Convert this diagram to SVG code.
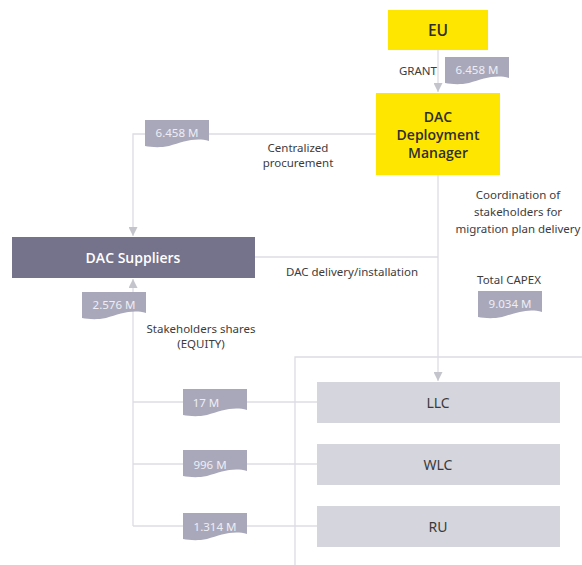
<svg xmlns="http://www.w3.org/2000/svg" width="582" height="565" viewBox="0 0 582 565">
<defs>
<style>
.ln{stroke:#dcdce3;stroke-width:1.3;fill:none}
.lbl{font-family:"Noto Sans","Open Sans",sans-serif;font-size:11.5px;fill:#3c3c3c;text-anchor:middle}
.bt{font-family:"Noto Sans","Open Sans",sans-serif;font-size:11.5px;fill:#eeeef4;text-anchor:middle}
.badge{fill:#a9a8bb}
.yel{fill:#ffe600}
.yt{font-family:"Open Sans","Noto Sans",sans-serif;font-size:14px;font-weight:600;fill:#2e2e2e;text-anchor:middle}
.lt{fill:#d5d5de}
.ltt{font-family:"Noto Sans","Open Sans",sans-serif;font-size:14px;fill:#3a3a3a;text-anchor:middle}
</style>
<path id="bd" d="M0,0 H64 V21 C50,17 38,22 24,26 C14,28 6,27 0,26 Z"/>
<marker id="ah" viewBox="0 0 10 10" refX="10" refY="5" markerWidth="9" markerHeight="9" markerUnits="userSpaceOnUse" orient="auto">
<path d="M0,0 L10,5 L0,10 Z" fill="#c4c4cc"/>
</marker>
</defs>
<rect width="582" height="565" fill="#ffffff"/>

<g id="connectors">
<line class="ln" x1="438" y1="50" x2="438" y2="92" marker-end="url(#ah)"/>
<polyline class="ln" points="376,134 133,134 133,236" marker-end="url(#ah)"/>
<line class="ln" x1="438" y1="175" x2="438" y2="381" marker-end="url(#ah)"/>
<line class="ln" x1="255" y1="257" x2="438" y2="257"/>
<line class="ln" x1="133" y1="526" x2="133" y2="279" marker-end="url(#ah)"/>
<line class="ln" x1="133" y1="402" x2="317" y2="402"/>
<line class="ln" x1="133" y1="464" x2="317" y2="464"/>
<line class="ln" x1="133" y1="526" x2="317" y2="526"/>
<polyline class="ln" points="582,357 295,357 295,565"/>
</g>

<g id="eu">
<rect class="yel" x="388" y="10" width="100" height="40"/>
<text class="yt" x="438" y="36" style="font-size:15.5px">EU</text>
</g>

<g id="grant">
<text class="lbl" x="418" y="75">GRANT</text>
<use href="#bd" class="badge" transform="translate(445,57)"/>
<text class="bt" x="477" y="74">6.458 M</text>
</g>

<g id="dac-manager">
<rect class="yel" x="376" y="93" width="124" height="82"/>
<text class="yt" x="438" y="122">DAC</text>
<text class="yt" x="438" y="140">Deployment</text>
<text class="yt" x="438" y="158">Manager</text>
</g>

<g id="centralized">
<use href="#bd" class="badge" transform="translate(145,120)"/>
<text class="bt" x="177" y="137">6.458 M</text>
<text class="lbl" x="298" y="152">Centralized</text>
<text class="lbl" x="298" y="167">procurement</text>
</g>

<g id="coordination">
<text class="lbl" x="518" y="199">Coordination of</text>
<text class="lbl" x="518" y="216">stakeholders for</text>
<text class="lbl" x="518" y="233">migration plan delivery</text>
</g>

<g id="dac-suppliers">
<rect x="12" y="237" width="243" height="41" fill="#75728c"/>
<text class="yt" x="133" y="263" style="fill:#ffffff">DAC Suppliers</text>
</g>

<g id="delivery">
<text class="lbl" x="352" y="276">DAC delivery/installation</text>
</g>

<g id="capex">
<text class="lbl" x="509" y="284">Total CAPEX</text>
<use href="#bd" class="badge" transform="translate(478,291)"/>
<text class="bt" x="510" y="308">9.034 M</text>
</g>

<g id="equity">
<use href="#bd" class="badge" transform="translate(82,292)"/>
<text class="bt" x="114" y="309">2.576 M</text>
<text class="lbl" x="201" y="333">Stakeholders shares</text>
<text class="lbl" x="201" y="348">(EQUITY)</text>
</g>

<g id="llc">
<use href="#bd" class="badge" transform="translate(183,389)"/>
<text class="bt" x="206" y="407">17 M</text>
<rect class="lt" x="317" y="382" width="243" height="41"/>
<text class="ltt" x="438" y="408">LLC</text>
</g>

<g id="wlc">
<use href="#bd" class="badge" transform="translate(183,450)"/>
<text class="bt" x="210" y="469">996 M</text>
<rect class="lt" x="317" y="444" width="243" height="41"/>
<text class="ltt" x="438" y="470">WLC</text>
</g>

<g id="ru">
<use href="#bd" class="badge" transform="translate(183,513)"/>
<text class="bt" x="215" y="531">1.314 M</text>
<rect class="lt" x="317" y="506" width="243" height="41"/>
<text class="ltt" x="438" y="532">RU</text>
</g>
</svg>
